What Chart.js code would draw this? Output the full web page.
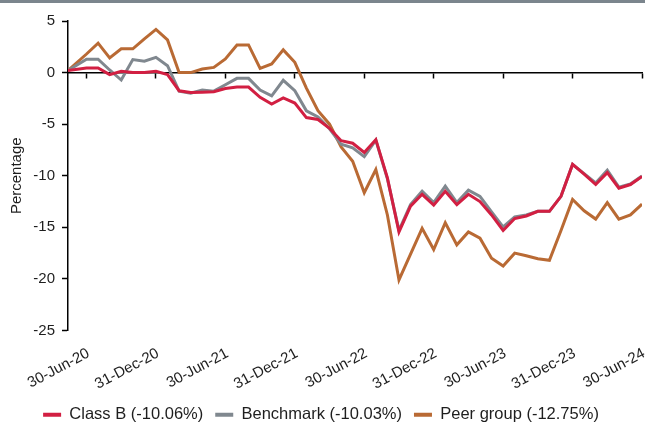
<!DOCTYPE html>
<html>
<head>
<meta charset="utf-8">
<script src="https://cdn.jsdelivr.net/npm/chart.js@4/dist/chart.umd.min.js"></script>
<style>
  html, body { margin: 0; padding: 0; background: #ffffff; }
  #wrap { position: relative; width: 645px; height: 423px; overflow: hidden; }
  #band { position: absolute; left: 0; top: 0; width: 645px; height: 3px; background: #7b858d; }
  canvas { position: absolute; left: 0; top: 0; }
</style>
</head>
<body>
<div id="wrap">
  <canvas id="c" width="645" height="423"></canvas>
  <div id="band"></div>
</div>
<script>
// Month offsets relative to 30-Jun-20 (first point is the inception date, mid-May 2020)
const monthOffsets = [-1.6,
  0, 1, 2, 3, 4, 5, 6, 7, 8, 9, 10, 11,
  12, 13, 14, 15, 16, 17, 18, 19, 20, 21, 22, 23,
  24, 25, 26, 27, 28, 29, 30, 31, 32, 33, 34, 35,
  36, 37, 38, 39, 40, 41, 42, 43, 44, 45, 46, 47, 48];

const tickPositions = [0, 6, 12, 18, 24, 30, 36, 42, 48];
const tickLabels = ['30-Jun-20', '31-Dec-20', '30-Jun-21', '31-Dec-21', '30-Jun-22',
  '31-Dec-22', '30-Jun-23', '31-Dec-23', '30-Jun-24'];

const seriesNames = ['Class B (-10.06%)', 'Benchmark (-10.03%)', 'Peer group (-12.75%)'];

const classB = [0.2,
  0.45, 0.45, -0.2, 0.12, 0.0, 0.0, 0.12, -0.2, -1.76, -1.93, -1.9, -1.85,
  -1.55, -1.4, -1.4, -2.4, -3.05, -2.45, -2.95, -4.36, -4.55, -5.4, -6.6, -6.85,
  -7.75, -6.5, -10.2, -15.45, -12.95, -11.8, -12.85, -11.5, -12.8, -11.8, -12.5, -13.8,
  -15.3, -14.15, -13.9, -13.45, -13.45, -12.0, -8.9, -9.85, -10.85, -9.7, -11.2, -10.85,
  -10.06];

const benchmark = [0.2,
  1.3, 1.3, 0.25, -0.72, 1.26, 1.1, 1.48, 0.67, -1.8, -2.0, -1.7, -1.8,
  -1.18, -0.56, -0.56, -1.7, -2.25, -0.75, -1.75, -3.7, -4.3, -5.45, -6.95, -7.3,
  -8.15, -6.55, -10.3, -15.3, -12.8, -11.5, -12.6, -11.0, -12.6, -11.4, -12.0, -13.5,
  -14.95, -14.0, -13.8, -13.45, -13.45, -12.0, -8.9, -9.8, -10.7, -9.45, -11.1, -10.8,
  -10.03];

const peerGroup = [0.2,
  1.8, 2.85, 1.42, 2.3, 2.3, 3.27, 4.18, 3.17, 0.0, 0.0, 0.35, 0.5,
  1.32, 2.68, 2.68, 0.41, 0.84, 2.2, 1.0, -1.5, -3.7, -5.0, -7.2, -8.6,
  -11.65, -9.4, -13.8, -20.1, -17.6, -15.1, -17.15, -14.55, -16.7, -15.45, -16.05, -18.0,
  -18.75, -17.5, -17.75, -18.05, -18.2, -15.3, -12.3, -13.4, -14.2, -12.6, -14.2, -13.8,
  -12.75];

const colors = ['#d21f42', '#80888f', '#b96a34'];

function pts(vals) { return vals.map((v, i) => ({ x: monthOffsets[i], y: v })); }

const FONT = "'Liberation Sans', Arial, sans-serif";
const TXT = '#1e1e1e';
const xMin = monthOffsets[0];
const xMax = monthOffsets[monthOffsets.length - 1];

const setTicks = (axis) => { axis.ticks = tickPositions.map(v => ({ value: v })); };

new Chart(document.getElementById('c'), {
  type: 'line',
  data: {
    datasets: [
      { label: seriesNames[0], data: pts(classB), borderColor: colors[0], backgroundColor: colors[0] },
      { label: seriesNames[1], data: pts(benchmark), borderColor: colors[1], backgroundColor: colors[1] },
      { label: seriesNames[2], data: pts(peerGroup), borderColor: colors[2], backgroundColor: colors[2] }
    ]
  },
  options: {
    responsive: false,
    animation: false,
    devicePixelRatio: 1,
    elements: {
      line: { borderWidth: 3, tension: 0, borderJoinStyle: 'miter' },
      point: { radius: 0, hoverRadius: 0 }
    },
    layout: { padding: { left: 0, right: 3, top: 21, bottom: -10 } },
    plugins: {
      tooltip: { enabled: false },
      legend: {
        position: 'bottom',
        labels: {
          color: TXT,
          font: { family: FONT, size: 16.5 },
          boxWidth: 18,
          boxHeight: 4,
          padding: 12,
          generateLabels: (chart) => {
            const items = Chart.defaults.plugins.legend.labels.generateLabels(chart);
            return items.map(it => Object.assign(it, { lineWidth: 0, strokeStyle: 'rgba(0,0,0,0)' }));
          }
        }
      }
    },
    scales: {
      x: {
        type: 'linear',
        position: 'bottom',
        min: xMin,
        max: xMax,
        afterBuildTicks: setTicks,
        afterFit: (s) => { s.height = 64; s.paddingLeft = 0; s.paddingRight = 0; },
        grid: { display: false, drawTicks: false },
        border: { display: false },
        ticks: {
          autoSkip: false,
          minRotation: 28,
          maxRotation: 28,
          padding: 14,
          labelOffset: 2,
          color: TXT,
          font: { family: FONT, size: 15 },
          callback: (v, i) => tickLabels[i]
        }
      },
      xz: {
        type: 'linear',
        position: { y: 0 },
        min: xMin,
        max: xMax,
        afterBuildTicks: setTicks,
        afterFit: (s) => { s.paddingLeft = 0; s.paddingRight = 0; },
        grid: { display: true, drawOnChartArea: false, drawTicks: true, tickLength: 5, tickColor: '#000', tickWidth: 1.5 },
        border: { display: true, color: '#000', width: 1.5 },
        ticks: { display: false }
      },
      y: {
        type: 'linear',
        position: 'left',
        min: -25,
        max: 5,
        afterFit: (s) => { s.width = 68; },
        grid: { display: true, drawOnChartArea: false, drawTicks: true, tickLength: 6, tickColor: '#000', tickWidth: 1.5 },
        border: { display: true, color: '#000', width: 1.5 },
        ticks: {
          stepSize: 5,
          padding: 7,
          color: TXT,
          font: { family: FONT, size: 15 }
        },
        title: {
          display: true,
          text: 'Percentage',
          color: TXT,
          font: { family: FONT, size: 15 },
          padding: { top: 8, bottom: 0 }
        }
      }
    }
  }
});
</script>
</body>
</html>
